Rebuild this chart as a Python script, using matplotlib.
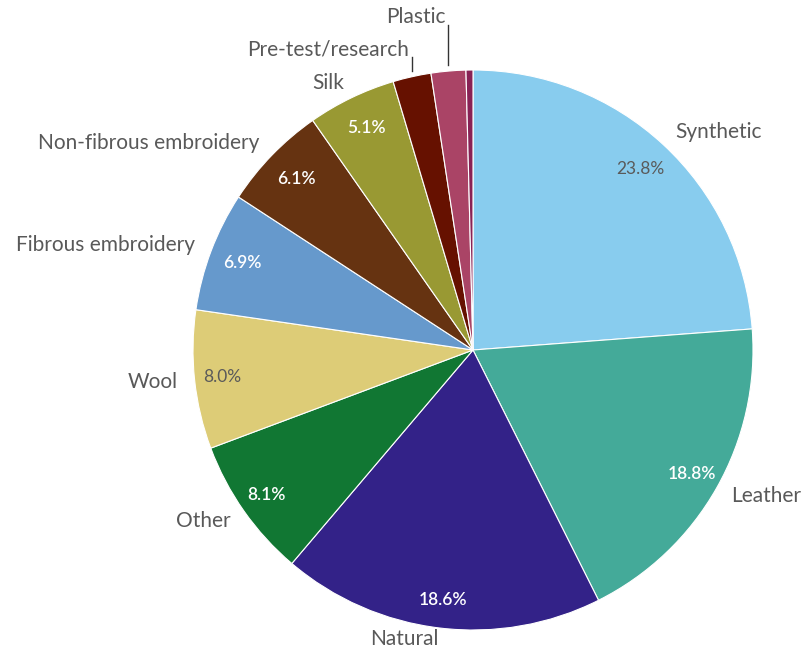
import numpy as np
import matplotlib
matplotlib.use("Agg")
import matplotlib.pyplot as plt

plt.rcParams['font.family'] = ['Lato', 'DejaVu Sans']

categories = ["Synthetic", "Leather", "Natural", "Other", "Wool",
              "Fibrous embroidery", "Non-fibrous embroidery", "Silk",
              "Pre-test/research", "Plastic", ""]
values = [23.8, 18.8, 18.6, 8.1, 8.0, 6.9, 6.1, 5.1, 2.2, 2.0, 0.4]
colors = ["#88CCEE", "#44AA99", "#332288", "#117733", "#DDCC77",
          "#6699CC", "#663311", "#999933", "#661100", "#AA4466", "#882255"]
dark_text = {"#88CCEE", "#DDCC77"}

W, H = 804, 653
fig = plt.figure(figsize=(W / 100, H / 100), dpi=100)
ax = fig.add_axes([0, 0, 1, 1])

cx, cy, R = 473, 350, 280

wedges, _ = ax.pie(values, colors=colors, startangle=90, counterclock=False,
                   radius=1.0, wedgeprops=dict(edgecolor="white", linewidth=0.8))

label_color = "#595959"
for w, lab, val, col in zip(wedges, categories, values, colors):
    mid = np.deg2rad((w.theta1 + w.theta2) / 2)
    ux, uy = np.cos(mid), np.sin(mid)
    if val >= 5:
        pc = "#5a5a5a" if col in dark_text else "white"
        wt = "normal" if col in dark_text else "semibold"
        pd = 0.88 if uy > 0 else 0.9
        ax.text(pd * ux, pd * uy, f"{val:.1f}%",
                ha="center", va="center", fontsize=12.5, color=pc, fontweight=wt)
        d = 1.04 if uy < -0.9 else 1.06
        ha = "left" if ux > 0 else "right"
        ax.text(d * ux, d * uy, lab, ha=ha, va="center", fontsize=15, color=label_color)
    elif lab:
        ex, ey = ux, uy
        top = 1.045 if lab.startswith("Pre") else 1.16
        ax.plot([ex, ex], [ey + 0.02, top], color="#333333", lw=1)
        ax.text(ex - 0.01, top + 0.03, lab, ha="right", va="center",
                fontsize=15, color=label_color)

ax.set_xlim(-cx / R, (W - cx) / R)
ax.set_ylim((cy - H) / R, cy / R)
ax.set_aspect("equal", adjustable="box")
ax.axis("off")

fig.savefig("out.png", dpi=100)
